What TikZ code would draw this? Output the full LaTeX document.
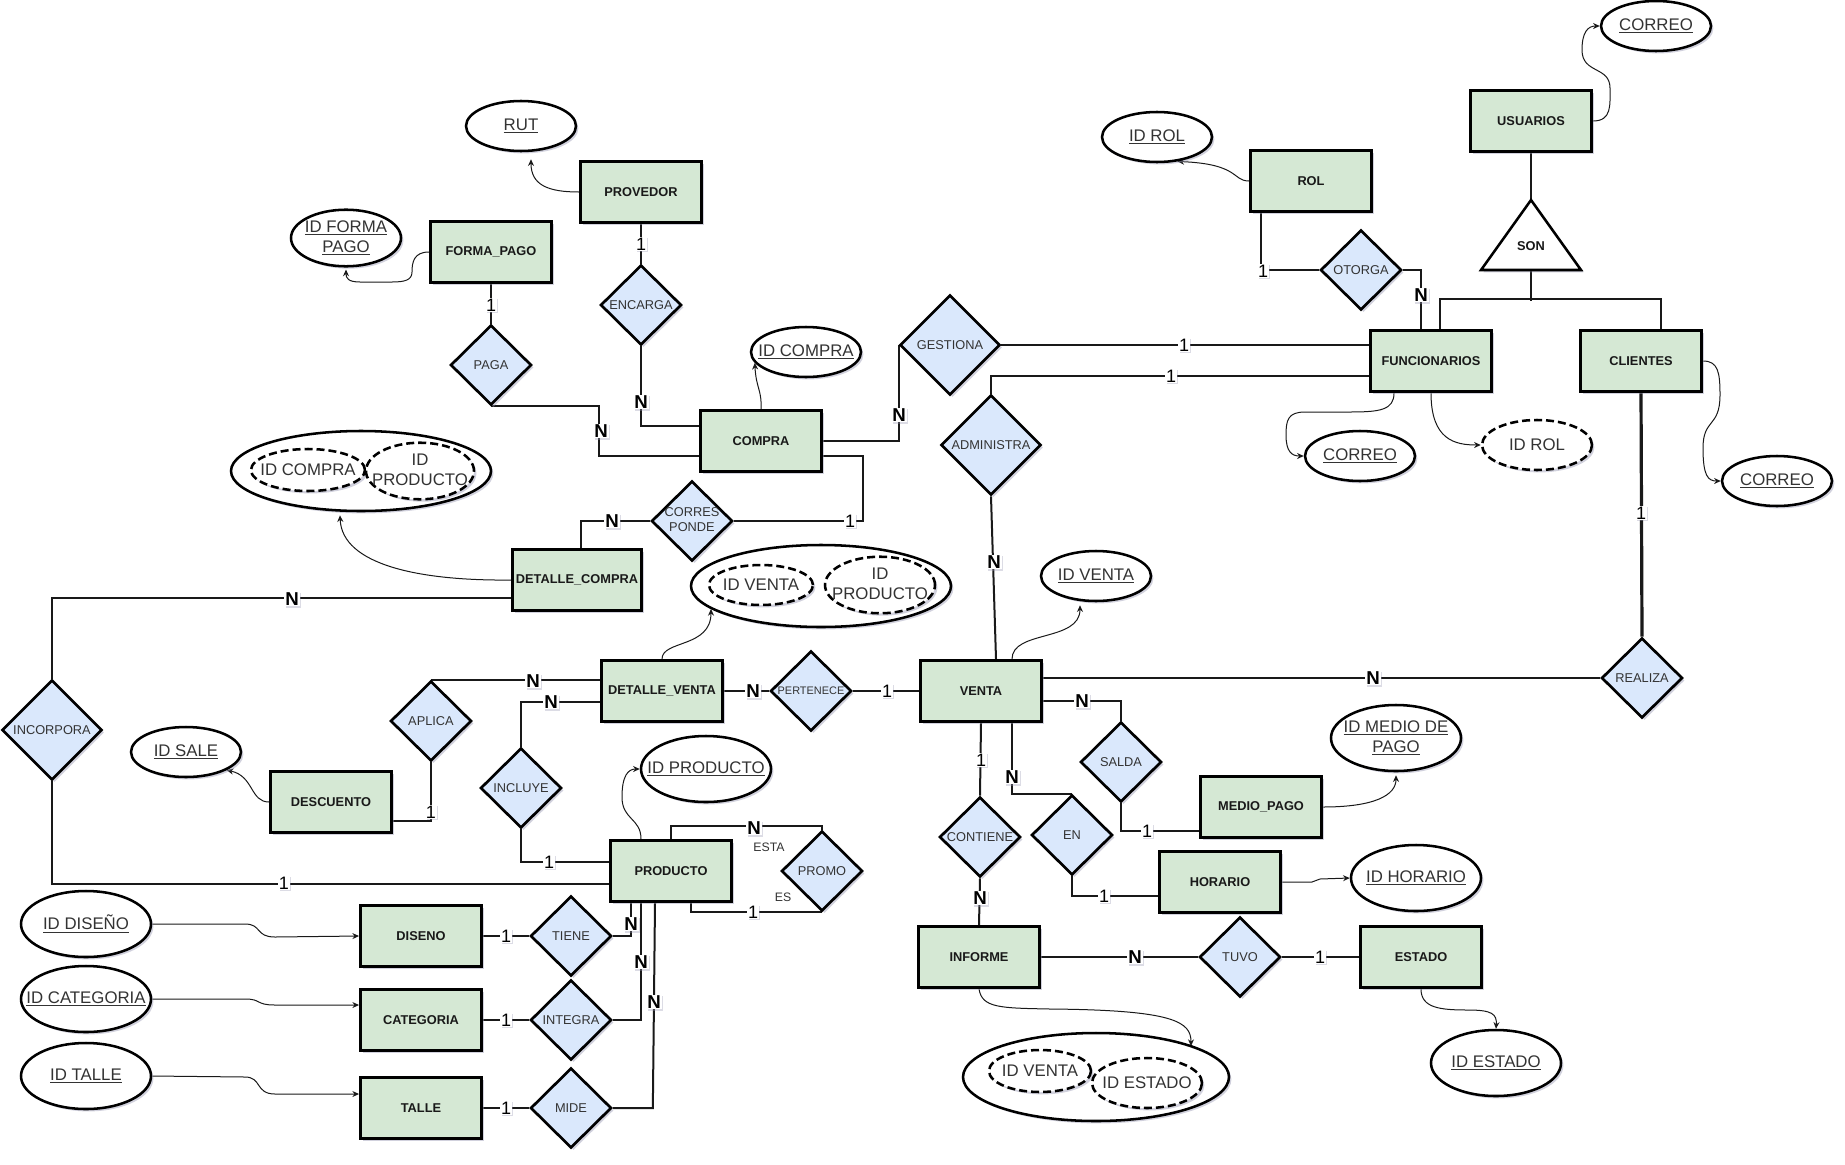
\documentclass[tikz,border=0pt]{standalone}
\usepackage{fontspec}
\setmainfont{Liberation Sans}
\usetikzlibrary{shapes.geometric,arrows.meta,calc,shadows}
\pgfdeclarelayer{bg}
\pgfsetlayers{bg,main}
\definecolor{entfill}{HTML}{D5E8D4}
\definecolor{relfill}{HTML}{DAE8FC}
\definecolor{txtgray}{HTML}{333333}
\definecolor{shadowgray}{HTML}{9A9AB4}
% text that does not widen its shape
\newcommand\zbox[1]{\makebox[0pt]{#1}}
\newcommand\twolines[2]{\makebox[0pt]{\begin{tabular}{@{}c@{}}#1\\#2\end{tabular}}}
\begin{document}
\begin{tikzpicture}[x=0.75pt,y=-0.75pt,
  softshadow/.style={drop shadow={shadow xshift=1.8pt,shadow yshift=-1.8pt,fill=shadowgray,opacity=.45}},
  ent/.style={rectangle,draw=black,line width=2.2pt,fill=entfill,minimum width=90.75pt,minimum height=45.75pt,
    inner sep=0pt,font=\fontsize{9.6}{11.5}\selectfont\bfseries,text=black!90,softshadow},
  rel/.style={diamond,draw=black,line width=2pt,fill=relfill,minimum width=60.75pt,minimum height=60pt,
    inner sep=0pt,font=\fontsize{9.6}{11.5}\selectfont,text=txtgray,softshadow},
  bigrel/.style={minimum width=75pt,minimum height=75pt},
  att/.style={ellipse,draw=black,line width=1.9pt,fill=white,minimum width=82.5pt,minimum height=37.5pt,
    inner sep=0pt,font=\fontsize{12.6}{15}\selectfont,text=txtgray,softshadow},
  bigatt/.style={minimum width=97.5pt,minimum height=49.5pt},
  katt/.style={att,dash pattern=on 6pt off 3pt},
  link/.style={line width=1.5pt,draw=black!90},
  arr/.style={line width=0.75pt,draw=black!90,-{Stealth[length=5pt,width=4.5pt]}},
  cone/.style={fill=white,inner sep=0.6pt,font=\fontsize{13.5}{13.5}\selectfont,text=black,
    drop shadow={shadow xshift=1pt,shadow yshift=-1pt,fill=shadowgray,opacity=.35}},
  cmany/.style={cone,font=\fontsize{14}{14}\selectfont\bfseries},
  roletxt/.style={inner sep=0pt,font=\fontsize{9.2}{11}\selectfont,text=txtgray}]
\useasboundingbox (0,0) rectangle (1845,1164);

% ---------- entities ----------
\node[ent] (usuarios) at (1531,121) {USUARIOS};
\node[ent] (rol) at (1311,181) {ROL};
\node[ent] (provedor) at (641,192) {PROVEDOR};
\node[ent] (formapago) at (491,252) {FORMA\_PAGO};
\node[ent] (funcionarios) at (1431,361) {FUNCIONARIOS};
\node[ent] (clientes) at (1641,361) {CLIENTES};
\node[ent] (compra) at (761,441) {COMPRA};
\node[ent,minimum width=96.75pt] (detcompra) at (577,580) {DETALLE\_COMPRA};
\node[ent] (detventa) at (662,691) {DETALLE\_VENTA};
\node[ent] (venta) at (981,691) {VENTA};
\node[ent] (descuento) at (331,802) {DESCUENTO};
\node[ent] (mediopago) at (1261,807) {MEDIO\_PAGO};
\node[ent] (producto) at (671,871) {PRODUCTO};
\node[ent] (horario) at (1220,882) {HORARIO};
\node[ent] (diseno) at (421,936) {DISENO};
\node[ent] (informe) at (979,957) {INFORME};
\node[ent] (estado) at (1421,957) {ESTADO};
\node[ent] (categoria) at (421,1020) {CATEGORIA};
\node[ent] (talle) at (421,1108) {TALLE};

% ---------- specialisation triangle ----------
\coordinate (sonTop) at (1531,200);
\coordinate (sonBase) at (1531,270);
\draw[line width=1.9pt,fill=white,softshadow] (1481,270) -- (sonTop) -- (1581,270) -- cycle;
\node[font=\fontsize{9.6}{11.5}\selectfont\bfseries,text=black!90] (son) at (1531,246) {SON};

% ---------- relationships ----------
\node[rel] (otorga) at (1361,270) {\zbox{OTORGA}};
\node[rel] (encarga) at (641,305) {\zbox{ENCARGA}};
\node[rel] (paga) at (491,365) {\zbox{PAGA}};
\node[rel,bigrel] (gestiona) at (950,345) {\zbox{GESTIONA}};
\node[rel,bigrel] (administra) at (991,445) {\zbox{ADMINISTRA}};
\node[rel] (corresponde) at (692,521) {\twolines{CORRES}{PONDE}};
\node[rel,bigrel] (incorpora) at (52,730) {\zbox{INCORPORA}};
\node[rel] (aplica) at (431,721) {\zbox{APLICA}};
\node[rel] (incluye) at (521,788) {\zbox{INCLUYE}};
\node[rel,font=\fontsize{8.2}{10}\selectfont] (pertenece) at (811,691) {\zbox{PERTENECE}};
\node[rel] (realiza) at (1642,678) {\zbox{REALIZA}};
\node[rel] (salda) at (1121,762) {\zbox{SALDA}};
\node[rel] (contiene) at (980,837) {\zbox{CONTIENE}};
\node[rel] (en) at (1072,835) {\zbox{EN}};
\node[rel] (promo) at (822,871) {\zbox{PROMO}};
\node[rel] (tiene) at (571,936) {\zbox{TIENE}};
\node[rel] (integra) at (571,1020) {\zbox{INTEGRA}};
\node[rel] (mide) at (571,1108) {\zbox{MIDE}};
\node[rel] (tuvo) at (1240,957) {\zbox{TUVO}};

% ---------- attributes ----------
\node[att] (correou) at (1656,26) {\zbox{\underline{CORREO}}};
\node[att] (idrol) at (1157,137) {\zbox{\underline{ID ROL}}};
\node[att] (rut) at (521,126) {\zbox{\underline{RUT}}};
\node[att] (idformapago) at (346,238) {\twolines{\underline{ID FORMA}}{\underline{PAGO}}};
\node[att] (idcompra) at (806,352) {\zbox{\underline{ID COMPRA}}};
\node[att] (correof) at (1360,456) {\zbox{\underline{CORREO}}};
\node[katt] (idrolf) at (1537,445) {\zbox{ID ROL}};
\node[att] (correoc) at (1777,481) {\zbox{\underline{CORREO}}};
\node[att] (idventa) at (1096,576) {\zbox{\underline{ID VENTA}}};
\node[att] (idsale) at (186,752) {\zbox{\underline{ID SALE}}};
\node[att,bigatt] (idmediopago) at (1396,738) {\twolines{\underline{ID MEDIO DE}}{\underline{PAGO}}};
\node[att,bigatt] (idproducto) at (706,769) {\zbox{\underline{ID PRODUCTO}}};
\node[att,bigatt] (idhorario) at (1416,878) {\zbox{\underline{ID HORARIO}}};
\node[att,bigatt] (iddiseno) at (86,924) {\zbox{\underline{ID DISEÑO}}};
\node[att,bigatt] (idcategoria) at (86,999) {\zbox{\underline{ID CATEGORIA}}};
\node[att,bigatt] (idtalle) at (86,1076) {\zbox{\underline{ID TALLE}}};
\node[att,bigatt] (idestado) at (1496,1063) {\zbox{\underline{ID ESTADO}}};

% composite keys
\node[att,minimum width=195pt,minimum height=60pt] (ckcompra) at (361,471) {};
\node[katt,minimum width=85.5pt,minimum height=31.5pt] (ckcompraA) at (308,470) {\zbox{ID COMPRA}};
\node[katt,minimum width=81pt,minimum height=37.5pt] (ckcompraB) at (420,471) {\twolines{ID}{PRODUCTO}};
\node[att,minimum width=195pt,minimum height=61.5pt] (ckventa) at (821,586) {};
\node[katt,minimum width=78pt,minimum height=30pt] (ckventaA) at (761,585) {\zbox{ID VENTA}};
\node[katt,minimum width=82.5pt,minimum height=39pt] (ckventaB) at (880,585) {\twolines{ID}{PRODUCTO}};
\node[att,minimum width=199.5pt,minimum height=66pt] (ckinforme) at (1096,1077) {};
\node[katt,minimum width=76.5pt,minimum height=31.5pt] (ckinformeA) at (1040,1071) {\zbox{ID VENTA}};
\node[katt,minimum width=82.5pt,minimum height=37.5pt] (ckinformeB) at (1147,1083) {\zbox{ID ESTADO}};

% ---------- connectors ----------
\begin{pgfonlayer}{bg}
\draw[link] (usuarios.south) -- (sonTop);
\draw[link] (sonBase) -- (1531,301);
\draw[link] ($(funcionarios.north)+(9,0)$) |- ($(clientes.north)+(20,-30)$) -- ($(clientes.north)+(20,0)$);
\draw[link] ($(rol.south)+(-50,0)$) |- (otorga.west);
\draw[link] (otorga.east) -| ($(funcionarios.north)+(-10,0)$);
\draw[link] (gestiona.east) -- (gestiona.east -| funcionarios.west);
\draw[link] (administra.north) |- ($(funcionarios.west)+(0,15)$);
\draw[link] (administra.south) -- ($(venta.north)+(15,0)$);
\draw[link] (compra.east) -| (gestiona.west);
\draw[link] ($(compra.east)+(0,15)$) -| ($(corresponde.east)+(129,0)$) -- (corresponde.east);
\draw[link] (corresponde.west) -| ($(detcompra.north)+(4,0)$);
\draw[link] (provedor.south) -- (encarga.north);
\draw[link] (encarga.south) |- ($(compra.west)+(0,-15)$);
\draw[link] (formapago.south) -- (paga.north);
\draw[link] (paga.south) -| ($(compra.west)+(-100,15)$) -- ($(compra.west)+(0,15)$);
\draw[link] (incorpora.north) |- ($(detcompra.west)+(0,18)$);
\draw[link] (incorpora.south) |- ($(producto.west)+(0,13)$);
\draw[link] (aplica.north) -- (aplica.north -| detventa.west);
\draw[link] (aplica.south) |- ($(descuento.east)+(0,19)$);
\draw[link] (incluye.north) |- ($(detventa.west)+(0,11)$);
\draw[link] (incluye.south) |- ($(producto.west)+(0,-9)$);
\draw[link] (detventa.east) -- (pertenece.west);
\draw[link] (pertenece.east) -- (venta.west);
\draw[link] (realiza.west) -- (realiza.west -| venta.east);
\draw[link,line width=2.4pt] (clientes.south) -- (realiza.north);
\draw[link] ($(venta.east)+(0,10)$) -| (salda.north);
\draw[link] (salda.south) |- ($(mediopago.west)+(0,24)$);
\draw[link] (venta.south) -- (contiene.north);
\draw[link] (contiene.south) -- (informe.north);
\draw[link] ($(venta.south)+(31,0)$) |- (en.north);
\draw[link] (en.south) |- ($(horario.west)+(0,14)$);
\draw[link] (informe.east) -- (tuvo.west);
\draw[link] (tuvo.east) -- (estado.west);
\draw[link] (producto.north) -- ++(0,-13) -| (promo.north);
\draw[link] ($(producto.south)+(20,0)$) |- (promo.south);
\draw[link] ($(producto.south)+(-40,0)$) |- (tiene.east);
\draw[link] ($(producto.south)+(-30,0)$) |- (integra.east);
\draw[link] ($(producto.south)+(-16,0)$) -- ($(mide.east)+(40,0)$) -- (mide.east);
\draw[link] (diseno.east) -- (tiene.west);
\draw[link] (categoria.east) -- (integra.west);
\draw[link] (talle.east) -- (mide.west);

% attribute links
\draw[arr] (usuarios.east) .. controls (1612,121) and (1610,105) .. (1610,88) .. controls (1610,66) and (1582,74) .. (1582,50) .. controls (1582,32) and (1588,26) .. (correou.west);
\draw[arr] (rol.west) .. controls (1232,181) and (1240,164) .. (idrol.-50);
\draw[arr] (provedor.west) .. controls (548,192) and (531,185) .. ($(rut.south)+(10,7)$);
\draw[arr] (formapago.west) .. controls (414,252) and (412,262) .. (412,272) .. controls (412,280) and (405,282) .. (392,282) -- (360,282) .. controls (348,282) and (346,278) .. ($(idformapago.south)+(0,2)$);
\draw[arr] (compra.north) .. controls (762,390) and (756,388) .. (idcompra.192);
\draw[arr] (detcompra.west) .. controls (420,581) and (342,565) .. ($(ckcompra.south)+(-21,3)$);
\draw[arr] (detventa.north) .. controls (662,640) and (711,648) .. ($(ckventa.center)+(-110,23)$);
\draw[arr] ($(venta.north)+(31,0)$) .. controls (1012,630) and (1080,642) .. ($(idventa.south)+(-16,3)$);
\draw[arr] ($(producto.north)+(-30,0)$) .. controls (641,818) and (622,820) .. (622,797) .. controls (622,776) and (628,769) .. (idproducto.west);
\draw[arr] (descuento.west) .. controls (250,802) and (254,776) .. (idsale.-24);
\draw[arr] (iddiseno.east) -- (245,924) .. controls (262,924) and (255,937) .. (275,937) -- (diseno.west);
\draw[arr] (idcategoria.east) -- (245,999) .. controls (262,999) and (255,1005) .. (275,1005) -- ($(categoria.west)+(0,-15)$);
\draw[arr] (idtalle.east) -- (245,1077) .. controls (262,1077) and (255,1094) .. (275,1094) -- ($(talle.west)+(0,-14)$);
\draw[arr] ($(funcionarios.south)+(-37,0)$) .. controls (1394,410) and (1380,412) .. (1350,412) -- (1305,412) .. controls (1288,412) and (1286,420) .. (1286,435) .. controls (1286,452) and (1292,456) .. (correof.west);
\draw[arr] (funcionarios.south) .. controls (1431,440) and (1455,445) .. (idrolf.west);
\draw[arr] (clientes.east) .. controls (1718,361) and (1720,372) .. (1720,395) .. controls (1720,428) and (1703,418) .. (1703,448) .. controls (1703,476) and (1708,481) .. (correoc.west);
\draw[arr] (mediopago.east) .. controls (1375,807) and (1396,795) .. ($(idmediopago.south)+(0,3)$);
\draw[arr] (horario.east) -- (1312,882) -- (1320,879) -- (idhorario.west);
\draw[arr] (estado.south) .. controls (1421,1008) and (1440,1010) .. (1468,1010) .. controls (1492,1010) and (1497,1014) .. (idestado.north);
\draw[arr] (informe.south) .. controls (982,1008) and (1000,1008) .. (1050,1009) .. controls (1175,1010) and (1191,1022) .. ($(ckinforme.center)+(95,-31)$);
\end{pgfonlayer}

% ---------- cardinalities ----------
\node[cone] (k1) at (1263,271) {1};
\node[cmany] (k2) at (1421,295) {N};
\node[cone] (k3) at (1184,345) {1};
\node[cone] (k4) at (1171,376) {1};
\node[cmany] (k5) at (994,562) {N};
\node[cmany] (k6) at (899,415) {N};
\node[cone] (k7) at (850,521) {1};
\node[cmany] (k8) at (612,521) {N};
\node[cone] (k9) at (641,244) {1};
\node[cmany] (k10) at (641,402) {N};
\node[cone] (k11) at (491,305) {1};
\node[cmany] (k12) at (601,431) {N};
\node[cmany] (k13) at (292,599) {N};
\node[cone] (k14) at (284,883) {1};
\node[cmany] (k15) at (533,681) {N};
\node[cone] (k16) at (431,812) {1};
\node[cmany] (k17) at (551,702) {N};
\node[cone] (k18) at (549,862) {1};
\node[cmany] (k19) at (753,691) {N};
\node[cone] (k20) at (887,691) {1};
\node[cmany] (k21) at (1373,678) {N};
\node[cone] (k22) at (1641,513) {1};
\node[cmany] (k23) at (1082,701) {N};
\node[cone] (k24) at (1147,831) {1};
\node[cone] (k25) at (981,760) {1};
\node[cmany] (k26) at (980,898) {N};
\node[cmany] (k27) at (1012,777) {N};
\node[cone] (k28) at (1104,896) {1};
\node[cmany] (k29) at (1135,957) {N};
\node[cone] (k30) at (1320,957) {1};
\node[cmany] (k31) at (754,828) {N};
\node[cone] (k32) at (753,912) {1};
\node[cmany] (k33) at (631,924) {N};
\node[cmany] (k34) at (641,962) {N};
\node[cmany] (k35) at (654,1002) {N};
\node[cone] (k36) at (506,936) {1};
\node[cone] (k37) at (506,1020) {1};
\node[cone] (k38) at (506,1108) {1};
\node[roletxt] (esta) at (769,847) {ESTA};
\node[roletxt] (es) at (783,897) {ES};
\end{tikzpicture}
\end{document}
